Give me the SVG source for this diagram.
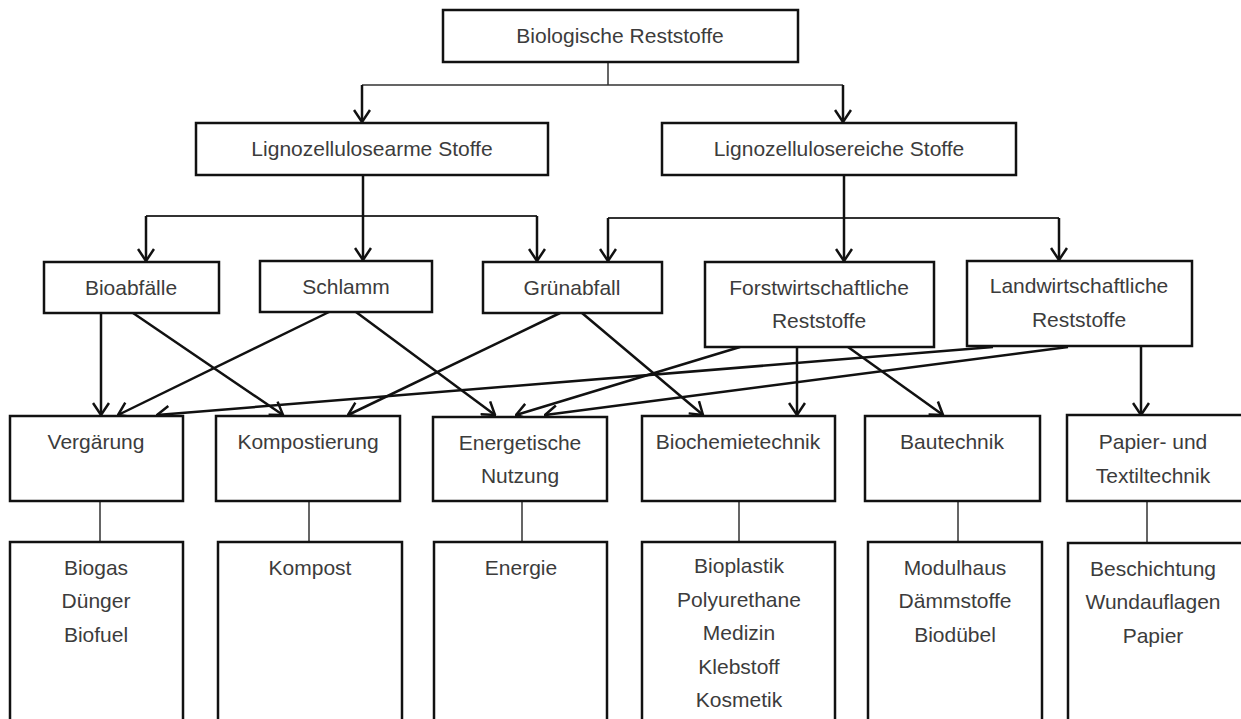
<svg xmlns="http://www.w3.org/2000/svg" width="1241" height="719" viewBox="0 0 1241 719">
<style>
.box{fill:#fff;stroke:#111;stroke-width:2.5}
.t{font-family:"Liberation Sans",Arial,sans-serif;font-size:21px;fill:#3c3c3c;text-anchor:middle}
.a{fill:none;stroke:#111;stroke-width:2.5}
.thin{fill:none;stroke:#333;stroke-width:1.5}
</style>
<defs>
<marker id="arr" viewBox="0 0 14 18" refX="13" refY="9" markerWidth="14" markerHeight="18" markerUnits="userSpaceOnUse" orient="auto">
<path d="M1,1 L13,9 L1,17" fill="none" stroke="#111" stroke-width="2.5"/>
</marker>
</defs>
<rect width="1241" height="719" fill="#fff"/>
<g id="connectors">
<path class="thin" d="M608,62 V85 M362,85 H843"/>
<path class="a" d="M362,85 V122" marker-end="url(#arr)"/>
<path class="a" d="M843,85 V122" marker-end="url(#arr)"/>
<path class="thin" d="M146,216 H537" style="stroke-width:2"/>
<path class="a" d="M363,175 V260" marker-end="url(#arr)"/>
<path class="a" d="M146,216 V261" marker-end="url(#arr)"/>
<path class="a" d="M537,216 V261" marker-end="url(#arr)"/>
<path class="thin" d="M608,218 H1059" style="stroke-width:2"/>
<path class="a" d="M844,175 V261" marker-end="url(#arr)"/>
<path class="a" d="M608,218 V261" marker-end="url(#arr)"/>
<path class="a" d="M1059,218 V260" marker-end="url(#arr)"/>
<path class="a" d="M101,313 V415" marker-end="url(#arr)"/>
<path class="a" d="M133,313 L283,415" marker-end="url(#arr)"/>
<path class="a" d="M329,312 L118,415" marker-end="url(#arr)"/>
<path class="a" d="M356,312 L495,415" marker-end="url(#arr)"/>
<path class="a" d="M560,313 L348,415" marker-end="url(#arr)"/>
<path class="a" d="M582,313 L703,415" marker-end="url(#arr)"/>
<path class="a" d="M740,347 L516,415" marker-end="url(#arr)"/>
<path class="a" d="M797,347 V415" marker-end="url(#arr)"/>
<path class="a" d="M848,347 L943,415" marker-end="url(#arr)"/>
<path class="a" d="M993,347 L157,415" marker-end="url(#arr)"/>
<path class="a" d="M1068,347 L545,415" marker-end="url(#arr)"/>
<path class="a" d="M1141,346 V415" marker-end="url(#arr)"/>
<path class="thin" d="M100,501 V542 M309,501 V542 M522,501 V542 M739,501 V542 M958,501 V542 M1147,501 V542"/>
</g>
<g id="n_bio"><rect class="box" x="443" y="10" width="355" height="52"/><text class="t" x="620" y="43">Biologische Reststoffe</text></g>
<g id="n_arm"><rect class="box" x="196" y="123" width="352" height="52"/><text class="t" x="372" y="156">Lignozellulosearme Stoffe</text></g>
<g id="n_reich"><rect class="box" x="662" y="123" width="354" height="52"/><text class="t" x="839" y="156">Lignozellulosereiche Stoffe</text></g>
<g id="n_bioab"><rect class="box" x="44" y="262" width="175" height="51"/><text class="t" x="131" y="295">Bioabfälle</text></g>
<g id="n_schlamm"><rect class="box" x="260" y="261" width="172" height="51"/><text class="t" x="346" y="294">Schlamm</text></g>
<g id="n_gruen"><rect class="box" x="483" y="262" width="179" height="51"/><text class="t" x="572" y="295">Grünabfall</text></g>
<g id="n_forst"><rect class="box" x="705" y="262" width="229" height="85"/><text class="t" x="819" y="295">Forstwirtschaftliche</text><text class="t" x="819" y="328">Reststoffe</text></g>
<g id="n_land"><rect class="box" x="967" y="261" width="225" height="85"/><text class="t" x="1079" y="293">Landwirtschaftliche</text><text class="t" x="1079" y="327">Reststoffe</text></g>
<g id="n_verg"><rect class="box" x="10" y="416" width="173" height="85"/><text class="t" x="96" y="449">Vergärung</text></g>
<g id="n_komp"><rect class="box" x="216" y="416" width="184" height="85"/><text class="t" x="308" y="449">Kompostierung</text></g>
<g id="n_energ"><rect class="box" x="433" y="417" width="174" height="84"/><text class="t" x="520" y="450">Energetische</text><text class="t" x="520" y="483">Nutzung</text></g>
<g id="n_biochem"><rect class="box" x="642" y="416" width="193" height="85"/><text class="t" x="738" y="449">Biochemietechnik</text></g>
<g id="n_bau"><rect class="box" x="865" y="416" width="175" height="85"/><text class="t" x="952" y="449">Bautechnik</text></g>
<g id="n_papier"><rect class="box" x="1067" y="415" width="190" height="86"/><text class="t" x="1153" y="449">Papier- und</text><text class="t" x="1153" y="483">Textiltechnik</text></g>
<g id="p_verg"><rect class="box" x="10" y="542" width="173" height="200"/><text class="t" x="96" y="575">Biogas</text><text class="t" x="96" y="608">Dünger</text><text class="t" x="96" y="642">Biofuel</text></g>
<g id="p_komp"><rect class="box" x="218" y="542" width="184" height="200"/><text class="t" x="310" y="575">Kompost</text></g>
<g id="p_energ"><rect class="box" x="434" y="542" width="173" height="200"/><text class="t" x="521" y="575">Energie</text></g>
<g id="p_biochem"><rect class="box" x="642" y="542" width="193" height="200"/><text class="t" x="739" y="573">Bioplastik</text><text class="t" x="739" y="607">Polyurethane</text><text class="t" x="739" y="640">Medizin</text><text class="t" x="739" y="674">Klebstoff</text><text class="t" x="739" y="707">Kosmetik</text></g>
<g id="p_bau"><rect class="box" x="868" y="542" width="174" height="200"/><text class="t" x="955" y="575">Modulhaus</text><text class="t" x="955" y="608">Dämmstoffe</text><text class="t" x="955" y="642">Biodübel</text></g>
<g id="p_papier"><rect class="box" x="1068" y="543" width="190" height="200"/><text class="t" x="1153" y="576">Beschichtung</text><text class="t" x="1153" y="609">Wundauflagen</text><text class="t" x="1153" y="643">Papier</text></g>
</svg>
